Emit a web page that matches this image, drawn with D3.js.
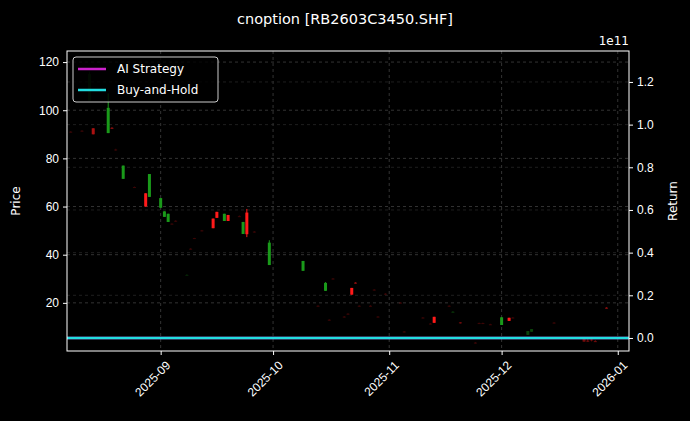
<!DOCTYPE html>
<html>
<head>
<meta charset="utf-8">
<script src="https://cdn.jsdelivr.net/npm/d3@7"></script>
<style>
  body { margin: 0; background: #000; }
  svg { font-family: "DejaVu Sans", sans-serif; }
  .axis text { fill: #fff; font-size: 12px; }
  .axis path, .axis line { stroke: #fff; }
</style>
</head>
<body>
<div id="chart"></div>
<script>
// candle data (daily)
const dates = ['2025-08-08','2025-08-11','2025-08-13','2025-08-14','2025-08-18','2025-08-19','2025-08-20','2025-08-22',
  '2025-08-25','2025-08-28','2025-08-29','2025-09-01','2025-09-02','2025-09-03','2025-09-04','2025-09-05',
  '2025-09-08','2025-09-09','2025-09-10','2025-09-12','2025-09-15','2025-09-16','2025-09-18','2025-09-19',
  '2025-09-22','2025-09-23','2025-09-24','2025-09-26','2025-09-30','2025-10-09','2025-10-13','2025-10-15',
  '2025-10-16','2025-10-17','2025-10-20','2025-10-21','2025-10-22','2025-10-23','2025-10-24','2025-10-27',
  '2025-10-28','2025-10-29','2025-10-31','2025-11-04','2025-11-05','2025-11-10','2025-11-12','2025-11-13',
  '2025-11-17','2025-11-18','2025-11-20','2025-11-24','2025-11-25','2025-11-26','2025-11-28','2025-12-01',
  '2025-12-03','2025-12-04','2025-12-08','2025-12-09','2025-12-15','2025-12-23','2025-12-24','2025-12-25',
  '2025-12-26','2025-12-29'];
const open  = [91,91.4,115,90,101,92.6,83.5,77,68,60,73.5,63.5,58,57,52.8,54,31.6,42.4,46.8,50,51,55.3,57,54,56,53.6,48.5,49.5,45,37.4,18.7,28.3,12.9,30,14.2,15.4,23.4,28.3,18.7,18.7,25.4,14.2,23.7,20,8,13.8,11.3,11.7,18.7,16.3,11.7,3.4,11.5,11.5,11,14,12.5,13.8,8.3,9.1,11.7,3.9,4.2,4.5,3.9,17.9];
const high  = [91.3,91.7,116,92.5,107,93,84,77,68.3,65.5,73.5,63.5,58,57,53,54.3,32,42.7,47,50.3,55,57.8,57,56.5,56.3,53.6,59,49.8,46,37.4,19,28.6,13.2,30.3,14.5,15.7,26.2,28.6,19,19,25.7,14.5,24,20.3,8.3,14.1,11.6,14.2,19,16.6,12,3.7,11.8,11.8,11.3,14,13.8,14.1,8.3,9.1,12,5.5,5,5,4.5,18.2];
const low   = [90.7,91.1,104,90,90.5,92.3,83.2,71.5,67.7,60,64,59.5,55.7,53.6,52.5,53.7,31.3,42.1,46.5,49.7,51,55.3,54,54,55.7,48.6,47.3,49.2,35.7,33.3,18.4,25,12.6,29.7,13.9,15.1,23.4,28,18.4,18.4,25.1,13.9,23.4,19.7,7.7,13.5,11,11.7,18.4,16,11.4,3.1,11.2,11.2,10.8,10.8,12.5,13.5,6.7,8,11.4,3.8,3.8,4,3.8,17.6];
const close = [91.1,91.5,104,92.5,90.5,92.7,83.7,71.5,68.1,65.5,64,59.5,55.7,53.6,52.9,54.1,31.5,42.5,46.9,50.1,55,57.8,54,56.5,56,48.6,57.5,49.6,35.7,33.3,18.8,25,13,30.1,14.3,15.5,26.2,28.4,18.8,18.8,25.5,14.3,23.8,20.1,8.1,13.9,11.4,14.2,18.8,16,11.9,3.5,11.6,11.6,11.1,10.8,13.8,13.9,6.7,8,11.8,5.5,4.3,4.8,4.1,18];
const volume = [1,1,2,5,8,4,1,8,1,8,8,8,8,8,1,1,1,1,1,1,8,8,8,8,1,8,8,1,8,8,1,8,1,1,1,1,8,4,1,1,1,1,1,1,1,1,1,8,1,2,3,1,1,1,1,8,8,1,3,3,1,3,3,3,3,4];

// return series (x1e11)
const retDates = ['2025-08-07', '2026-01-04'];
const aiStrategy = [0, 0];
const buyHold = [0, 0];

const priceTicks = [20, 40, 60, 80, 100, 120];
const retTicks = [0, 0.2, 0.4, 0.6, 0.8, 1.0, 1.2];

const W = 690, H = 421;
const margin = {top: 51, right: 61, bottom: 70, left: 67};
const width = W - margin.left - margin.right;
const height = H - margin.top - margin.bottom;
const parse = d3.utcParse('%Y-%m-%d');

const candles = dates.map((d, i) => ({date: parse(d), o: open[i], h: high[i], l: low[i], c: close[i], v: volume[i]}));

const svg = d3.select('#chart').append('svg')
    .attr('width', W).attr('height', H)
    .style('background', '#000');

svg.append('text')
    .attr('x', W / 2).attr('y', 24)
    .attr('text-anchor', 'middle')
    .attr('fill', '#fff').attr('font-size', 14.5)
    .text('cnoption [RB2603C3450.SHF]');

const g = svg.append('g')
    .attr('transform', 'translate(' + margin.left + ',' + margin.top + ')');

const xScale = d3.scaleUtc()
    .domain([parse('2025-08-07'), parse('2026-01-04')])
    .range([0, width]);
const yScale = d3.scaleLinear().domain([0, 124.6]).range([height, 0]);
const yRet = d3.scaleLinear().domain([-0.061, 1.345]).range([height, 0]);

const xTicks = ['2025-09-01','2025-10-01','2025-11-01','2025-12-01','2026-01-01'].map(parse);

// grid
const grid = g.append('g').attr('stroke-dasharray', '3,3').attr('stroke-width', 0.6);
grid.selectAll('.gx').data(xTicks).join('line')
    .attr('x1', d => xScale(d)).attr('x2', d => xScale(d))
    .attr('y1', 0).attr('y2', height).attr('stroke', '#555');
grid.selectAll('.gy').data(priceTicks).join('line')
    .attr('x1', 0).attr('x2', width)
    .attr('y1', d => yScale(d)).attr('y2', d => yScale(d)).attr('stroke', '#555');
grid.selectAll('.gr').data(retTicks).join('line')
    .attr('x1', 0).attr('x2', width)
    .attr('y1', d => yRet(d)).attr('y2', d => yRet(d)).attr('stroke', '#333');

// candles
const cg = g.append('g').selectAll('g').data(candles).join('g')
    .attr('opacity', d => 0.12 + 0.88 * d.v / 8);
cg.append('line')
    .attr('x1', d => xScale(d.date)).attr('x2', d => xScale(d.date))
    .attr('y1', d => yScale(d.h)).attr('y2', d => yScale(d.l))
    .attr('stroke', d => d.c >= d.o ? '#ff1a1a' : '#1a9a1a').attr('stroke-width', 1);
cg.append('rect')
    .attr('x', d => xScale(d.date) - 1.5).attr('width', 3)
    .attr('y', d => yScale(Math.max(d.o, d.c)))
    .attr('height', d => Math.max(1, Math.abs(yScale(d.o) - yScale(d.c))))
    .attr('fill', d => d.c >= d.o ? '#ff1a1a' : '#1a9a1a');

// return lines
const line = d3.line().x(d => xScale(d[0])).y(d => yRet(d[1]));
g.append('path')
    .datum(retDates.map((d, i) => [parse(d), aiStrategy[i]]))
    .attr('d', line).attr('fill', 'none').attr('stroke', '#cc22cc').attr('stroke-width', 2.5);
g.append('path')
    .datum(retDates.map((d, i) => [parse(d), buyHold[i]]))
    .attr('d', line).attr('fill', 'none').attr('stroke', '#22dde0').attr('stroke-width', 2.5);

// frame
g.append('rect').attr('width', width).attr('height', height)
    .attr('fill', 'none').attr('stroke', '#fff');

// axes
g.append('g').attr('class', 'axis')
    .call(d3.axisLeft(yScale).tickValues(priceTicks).tickSize(4).tickPadding(4))
    .call(a => a.select('.domain').remove());
g.append('g').attr('class', 'axis')
    .attr('transform', 'translate(' + width + ',0)')
    .call(d3.axisRight(yRet).tickValues(retTicks).tickSize(4).tickPadding(4).tickFormat(d3.format('.1f')))
    .call(a => a.select('.domain').remove());
g.append('g').attr('class', 'axis')
    .attr('transform', 'translate(0,' + height + ')')
    .call(d3.axisBottom(xScale).tickValues(xTicks).tickSize(4).tickFormat(d3.utcFormat('%Y-%m')))
    .call(a => a.select('.domain').remove())
    .selectAll('text')
    .attr('text-anchor', 'end')
    .attr('dx', '-0.3em').attr('dy', '0.9em')
    .attr('transform', 'rotate(-45)');

g.append('text').attr('x', width).attr('y', -6)
    .attr('text-anchor', 'end').attr('fill', '#fff').attr('font-size', 12).text('1e11');

svg.append('text')
    .attr('transform', 'translate(20,' + (margin.top + height / 2) + ') rotate(-90)')
    .attr('text-anchor', 'middle').attr('fill', '#fff').attr('font-size', 12).text('Price');
svg.append('text')
    .attr('transform', 'translate(677,' + (margin.top + height / 2) + ') rotate(-90)')
    .attr('text-anchor', 'middle').attr('fill', '#fff').attr('font-size', 12).text('Return');

// legend
const legend = g.append('g').attr('transform', 'translate(6,6)');
legend.append('rect').attr('width', 145).attr('height', 45).attr('rx', 3)
    .attr('fill', '#000').attr('fill-opacity', 0.8).attr('stroke', '#ccc');
[['AI Strategy', '#cc22cc'], ['Buy-and-Hold', '#22dde0']].forEach((s, i) => {
    const y = 12 + i * 21;
    legend.append('line').attr('x1', 5).attr('x2', 33).attr('y1', y).attr('y2', y)
        .attr('stroke', s[1]).attr('stroke-width', 2.5);
    legend.append('text').attr('x', 44).attr('y', y + 4)
        .attr('fill', '#fff').attr('font-size', 12).text(s[0]);
});
</script>
</body>
</html>
